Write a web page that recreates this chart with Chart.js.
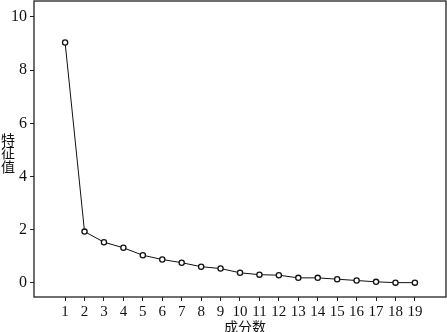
<!DOCTYPE html>
<html>
<head>
<meta charset="utf-8">
<script src="https://cdn.jsdelivr.net/npm/chart.js@4/dist/chart.umd.min.js"></script>
<style>
  html, body { margin: 0; padding: 0; background: #fff; }
  #wrap { width: 447px; height: 332px; }
</style>
</head>
<body>
<div id="wrap"><canvas id="myChart"></canvas></div>
<script>
const components = [1, 2, 3, 4, 5, 6, 7, 8, 9, 10, 11, 12, 13, 14, 15, 16, 17, 18, 19];
const eigenValues = [9.04, 1.93, 1.53, 1.32, 1.04, 0.88, 0.76, 0.61, 0.54, 0.38,
  0.31, 0.29, 0.19, 0.19, 0.14, 0.09, 0.04, 0.01, 0.01];
const yTicks = [0, 2, 4, 6, 8, 10];
const xTitle = "成分数";
const yTitle = ["特", "征", "值"];

const serif = "'Liberation Serif', 'Times New Roman', serif";
const cjk = "'Noto Sans CJK SC', sans-serif";

// frame round the plot plus the two axis titles
const framePlugin = {
  id: "frame",
  afterDraw(chart) {
    const { ctx, chartArea } = chart;
    ctx.save();
    ctx.strokeStyle = "#222";
    ctx.lineWidth = 1.3;
    ctx.strokeRect(chartArea.left, chartArea.top, chartArea.right - chartArea.left, chartArea.bottom - chartArea.top);

    ctx.fillStyle = "#111";
    ctx.font = "14px " + cjk;
    ctx.textAlign = "center";
    ctx.textBaseline = "middle";
    const midY = (chartArea.top + chartArea.bottom) / 2;
    for (let i = 0; i < yTitle.length; i++) {
      ctx.fillText(yTitle[i], 8, midY + 4 + (i - 1) * 13.5);
    }
    ctx.fillText(xTitle, (chartArea.left + chartArea.right) / 2 + 5, chartArea.bottom + 30);
    ctx.restore();
  },
};

const ctx = document.getElementById("myChart").getContext("2d");
const myChart = new Chart(ctx, {
  type: "line",
  data: {
    datasets: [
      {
        data: components.map((c, i) => ({ x: c, y: eigenValues[i] })),
        borderColor: "#111",
        borderWidth: 1,
        pointRadius: 2.6,
        pointBorderWidth: 1.3,
        pointBackgroundColor: "#fff",
        pointBorderColor: "#111",
        tension: 0,
      },
    ],
  },
  options: {
    responsive: true,
    maintainAspectRatio: false,
    animation: false,
    layout: { autoPadding: false, padding: { top: 1, right: 1, left: 0, bottom: 0 } },
    plugins: { legend: { display: false }, tooltip: { enabled: false } },
    scales: {
      x: {
        type: "linear",
        min: -0.6,
        max: 20.6,
        afterBuildTicks: (axis) => {
          axis.ticks = components.map((v) => ({ value: v }));
        },
        afterFit: (axis) => {
          axis.height = 35;
          axis.paddingLeft = 0;
          axis.paddingRight = 0;
        },
        border: { display: false },
        grid: { drawOnChartArea: false, drawTicks: true, tickLength: 4, color: "#222", tickWidth: 1 },
        ticks: { color: "#111", font: { family: serif, size: 15 }, padding: 2, maxRotation: 0, autoSkip: false },
      },
      y: {
        min: -0.53,
        max: 10.6,
        afterBuildTicks: (axis) => {
          axis.ticks = yTicks.map((v) => ({ value: v }));
        },
        afterFit: (axis) => {
          axis.width = 34;
          axis.paddingTop = 0;
          axis.paddingBottom = 0;
        },
        border: { display: false },
        grid: { drawOnChartArea: false, drawTicks: true, tickLength: 4, color: "#222", tickWidth: 1 },
        ticks: { color: "#111", font: { family: serif, size: 16 }, padding: 3 },
      },
    },
  },
  plugins: [framePlugin],
});
</script>
</body>
</html>
